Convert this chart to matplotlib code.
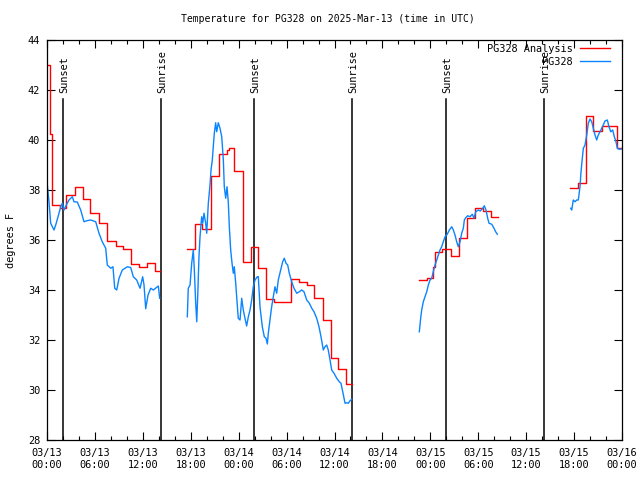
import numpy as np
import pandas as pd
import matplotlib
matplotlib.use("Agg")
import matplotlib.pyplot as plt
import matplotlib.dates as mdates

plt.rcParams['font.family'] = ['DejaVu Sans Mono']
FS = 7.4

START = pd.Timestamp("2025-03-13 00:00")

# ---- PG328 Analysis (red, step) : hours since 03/13 00:00 UTC, degrees F
red_h_1 = [0.0, 0.42, 0.59, 1.59, 2.42, 3.5, 4.47, 5.42, 6.47, 7.47, 8.6, 9.55, 10.5, 11.56, 12.56, 13.52, 14.1]
red_t_1 = [43.0, 40.23, 37.41, 37.27, 37.8, 38.1, 37.63, 37.07, 36.67, 35.97, 35.76, 35.63, 35.03, 34.91, 35.07, 34.76, 34.76]

red_h_2 = [17.57, 18.49, 19.45, 20.54, 21.58, 22.5, 22.83, 23.45, 24.58, 25.54, 26.46, 27.42, 28.46, 30.52, 31.59, 32.6, 33.47, 34.52, 35.53, 36.48, 37.44, 38.15]
red_t_2 = [35.63, 36.63, 36.44, 38.57, 39.44, 39.6, 39.69, 38.77, 35.13, 35.71, 34.89, 33.63, 33.51, 34.44, 34.31, 34.2, 33.67, 32.8, 31.27, 30.83, 30.24, 30.24]

red_h_3 = [46.58, 47.55, 48.37, 48.59, 49.42, 50.59, 51.63, 52.56, 53.59, 54.63, 55.6, 56.51]
red_t_3 = [34.39, 34.47, 34.93, 35.51, 35.64, 35.36, 36.09, 36.87, 37.27, 37.16, 36.93, 36.93]

red_h_4 = [65.49, 66.53, 67.49, 68.41, 69.5, 71.41, 72.0]
red_t_4 = [38.07, 38.27, 40.96, 40.37, 40.57, 39.67, 39.67]

# ---- PG328 observations (blue)
blue_h_1 = [0.04, 0.25, 0.46, 0.88, 1.09, 1.38, 1.72, 1.92, 2.13, 2.42, 2.75, 3.17, 3.38, 3.79, 4.22, 4.63, 4.97,
            5.47, 6.1, 6.51, 6.92, 7.35, 7.55, 7.98, 8.26, 8.48, 8.73, 9.02, 9.43, 10.06, 10.48, 10.81, 11.23,
            11.65, 11.98, 12.15, 12.36, 12.65, 12.99, 13.31, 13.59, 13.94, 14.11]
blue_t_1 = [38.2, 37.53, 36.67, 36.4, 36.6, 36.93, 37.33, 37.47, 37.2, 37.4, 37.6, 37.73, 37.53, 37.52, 37.2, 36.73, 36.77,
            36.8, 36.73, 36.27, 35.93, 35.67, 35.0, 34.87, 34.93, 34.07, 34.0, 34.47, 34.8, 34.93, 34.9, 34.53, 34.4,
            34.07, 34.53, 34.2, 33.25, 33.8, 34.07, 34.0, 34.07, 34.16, 33.67]

blue_h_2 = [17.57, 17.69, 17.91, 18.12, 18.32, 18.44, 18.62, 18.75, 18.87, 19.03, 19.16, 19.37, 19.5, 19.66, 19.87, 20.0,
            20.2, 20.41, 20.54, 20.7, 20.82, 20.95, 21.12, 21.25, 21.45, 21.66, 21.88, 22.08, 22.2, 22.38, 22.54, 22.7,
            22.83, 23.0, 23.17, 23.33, 23.45, 23.63, 23.75, 23.95, 24.17, 24.38, 24.58, 24.79, 25.0, 25.21, 25.42,
            25.63, 25.83, 26.05, 26.33, 26.46, 26.67, 26.96, 27.21, 27.42, 27.59, 27.71, 27.92, 28.13, 28.34, 28.55,
            28.76, 28.96, 29.26, 29.51, 29.71, 29.93, 30.14, 30.34, 30.64, 30.93, 31.27, 31.59, 31.89, 32.18, 32.52,
            32.85, 33.15, 33.43, 33.77, 34.06, 34.31, 34.6, 34.81, 35.02, 35.22, 35.44, 35.65, 35.94, 36.28, 36.6,
            36.81, 37.03, 37.32, 37.53, 37.73, 37.94, 38.15]
blue_t_2 = [32.93, 34.07, 34.2, 35.07, 35.6, 34.87, 33.47, 32.73, 33.73, 35.33, 36.13, 36.93, 36.67, 37.07, 36.67, 36.27,
            37.47, 38.2, 38.8, 39.2, 39.73, 40.27, 40.69, 40.33, 40.69, 40.47, 40.13, 39.2, 38.13, 37.67, 38.13, 37.53,
            36.53, 35.6, 35.07, 34.67, 34.93, 34.27, 33.73, 32.87, 32.8, 33.67, 33.2, 32.87, 32.56, 32.93, 33.2,
            33.6, 34.13, 34.4, 34.53, 34.53, 33.33, 32.53, 32.13, 32.07, 31.84, 32.27, 32.8, 33.33, 33.73, 34.13,
            33.87, 34.4, 34.8, 35.13, 35.27, 35.07, 35.0, 34.67, 34.33, 34.07, 33.87, 33.93, 34.0, 33.93, 33.6,
            33.47, 33.27, 33.13, 32.87, 32.53, 32.13, 31.6, 31.73, 31.8, 31.6, 31.2, 30.8, 30.67, 30.47, 30.33,
            30.27, 29.93, 29.47, 29.49, 29.47, 29.57, 29.63]

blue_h_3 = [46.62, 46.79, 46.92, 47.12, 47.33, 47.55, 47.75, 47.96, 48.17, 48.37, 48.59, 48.8, 49.0, 49.21, 49.42,
            49.62, 49.84, 50.12, 50.38, 50.68, 50.88, 51.09, 51.3, 51.5, 51.72, 51.93, 52.13, 52.26, 52.43, 52.68,
            52.97, 53.26, 53.47, 53.68, 54.0, 54.26, 54.56, 54.76, 54.97, 55.18, 55.35, 55.69, 55.97, 56.18, 56.39]
blue_t_3 = [32.33, 32.87, 33.2, 33.53, 33.73, 33.93, 34.2, 34.4, 34.47, 34.73, 35.0, 35.2, 35.4, 35.6, 35.73,
            35.93, 36.13, 36.23, 36.4, 36.53, 36.4, 36.2, 35.93, 35.73, 35.93, 36.27, 36.47, 36.8, 36.89, 36.97,
            36.93, 37.03, 36.87, 37.13, 37.2, 37.16, 37.27, 37.37, 37.2, 36.87, 36.67, 36.63, 36.47, 36.33, 36.23]

blue_h_4 = [65.58, 65.7, 65.9, 66.12, 66.33, 66.53, 66.74, 66.87, 67.03, 67.16, 67.37, 67.58, 67.78, 67.99, 68.21,
            68.41, 68.62, 68.83, 69.03, 69.25, 69.46, 69.66, 69.87, 70.16, 70.37, 70.59, 70.84, 71.04, 71.25, 71.41,
            71.66, 71.87]
blue_t_4 = [37.27, 37.2, 37.6, 37.53, 37.6, 37.6, 38.13, 38.73, 39.27, 39.67, 39.8, 40.2, 40.67, 40.84, 40.73,
            40.47, 40.2, 40.0, 40.2, 40.33, 40.47, 40.6, 40.76, 40.8, 40.53, 40.33, 40.4, 40.13, 39.93, 39.67,
            39.63, 39.64]

# ---- Sun events (hours since start)
sun_h = [2.04, 14.31, 25.96, 38.23, 50.0, 62.27]
sun_lbl = ["Sunset", "Sunrise", "Sunset", "Sunrise", "Sunset", "Sunrise"]

title = "Temperature for PG328 on 2025-Mar-13 (time in UTC)"


def to_dt(hours):
    return START + pd.to_timedelta(np.asarray(hours, dtype=float), unit="h")


RED = "#ff0000"
BLUE = "#0a84ff"

fig = plt.figure(figsize=(6.4, 4.8), dpi=100)
ax = fig.add_axes([47 / 640, 40 / 480, 575 / 640, 400 / 480])

red_segs = [(red_h_1, red_t_1), (red_h_2, red_t_2), (red_h_3, red_t_3), (red_h_4, red_t_4)]
blue_segs = [(blue_h_1, blue_t_1), (blue_h_2, blue_t_2), (blue_h_3, blue_t_3), (blue_h_4, blue_t_4)]

# sun lines
y_line_top = 41.64
for h, lbl in zip(sun_h, sun_lbl):
    ax.plot(to_dt([h, h]), [28, y_line_top], color="black", lw=1.1, zorder=1)
    ax.text(to_dt([h])[0] + pd.Timedelta(minutes=10), 41.9, lbl, rotation=90, ha="center", va="bottom",
            fontsize=FS, zorder=3)

for i, (h, t) in enumerate(red_segs):
    ax.plot(to_dt(h), t, color=RED, lw=1.0, drawstyle="steps-post", zorder=2,
            label="PG328 Analysis" if i == 0 else None)
for i, (h, t) in enumerate(blue_segs):
    ax.plot(to_dt(h), t, color=BLUE, lw=1.0, zorder=2, label="PG328" if i == 0 else None)

ax.set_xlim(START, START + pd.Timedelta(hours=72))
ax.set_ylim(28, 44)
ax.set_yticks(np.arange(28, 45, 2))
ax.xaxis.set_major_locator(mdates.HourLocator(byhour=[0, 6, 12, 18]))
ax.xaxis.set_minor_locator(mdates.HourLocator(byhour=range(0, 24, 2)))
ax.xaxis.set_major_formatter(mdates.DateFormatter("%m/%d\n%H:%M"))

ax.tick_params(axis="both", which="major", direction="in", length=6, width=0.8, labelsize=FS,
               top=True, right=True, pad=5)
ax.tick_params(axis="x", which="minor", direction="in", length=3, width=0.8, top=True)
ax.tick_params(axis="x", which="major", pad=6)
for sp in ax.spines.values():
    sp.set_linewidth(0.9)

leg = ax.legend(loc="upper right", bbox_to_anchor=(0.979, 0.99), frameon=False, markerfirst=False,
                fontsize=FS, handlelength=2.9, handletextpad=0.7, labelspacing=0.25, borderpad=0,
                borderaxespad=0)
for t in leg.get_texts():
    t.set_ha("right")

fig.text(327.5 / 640, 1 - 19 / 480, title, ha="center", va="center", fontsize=7.0)
fig.text(11 / 640, 0.5, "degrees F", rotation=90, ha="center", va="center", fontsize=FS)

fig.savefig("out.png", dpi=100)
